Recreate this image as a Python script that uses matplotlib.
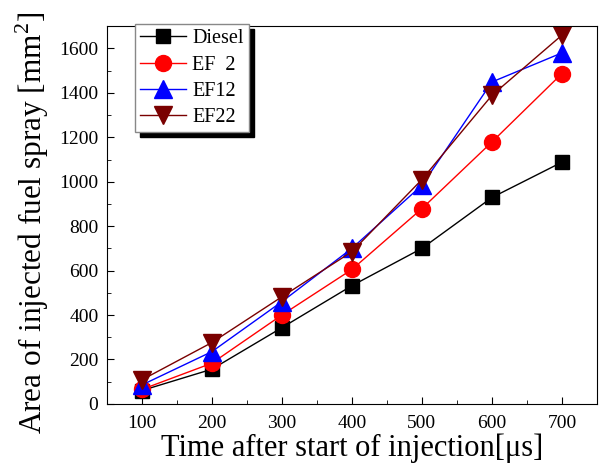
import matplotlib.pyplot as plt
from matplotlib.ticker import MultipleLocator

# values
time_us = [100, 200, 300, 400, 500, 600, 700]
diesel = [60, 156, 343, 532, 700, 929, 1088]
ef2 = [65, 183, 400, 605, 879, 1179, 1487]
ef12 = [85, 235, 460, 700, 984, 1449, 1580]
ef22 = [108, 276, 482, 685, 1010, 1389, 1660]

plt.rcParams['font.family'] = ['Liberation Serif', 'DejaVu Serif']
plt.rcParams['mathtext.fontset'] = 'custom'
plt.rcParams['mathtext.rm'] = 'Liberation Serif'

fig = plt.figure(figsize=(6, 4.68), dpi=100)
ax = fig.add_axes([0.178, 0.137, 0.817, 0.807])

ax.plot(time_us, diesel, color='black', marker='s', markersize=10, lw=1, label='Diesel')
ax.plot(time_us, ef2, color='red', marker='o', markersize=11.5, lw=1, label='EF  2')
ax.plot(time_us, ef12, color='blue', marker='^', markersize=12.5, lw=1, label='EF12')
ax.plot(time_us, ef22, color='#7a0000', marker='v', markersize=12.5, lw=1, label='EF22')

ax.set_xlim(50, 750)
ax.set_ylim(0, 1700)
ax.xaxis.set_major_locator(MultipleLocator(100))
ax.xaxis.set_minor_locator(MultipleLocator(50))
ax.yaxis.set_major_locator(MultipleLocator(200))
ax.yaxis.set_minor_locator(MultipleLocator(100))
ax.tick_params(which='both', direction='in', labelsize=14)
ax.tick_params(which='major', length=5)
ax.tick_params(which='minor', length=3)
ax.tick_params(axis='x', which='major', pad=8)
ax.tick_params(axis='y', which='major', pad=6)

ax.set_xlabel('Time after start of injection[\u03bcs]', fontsize=22, labelpad=1)
ax.set_ylabel('Area of injected fuel spray [mm$^\\mathrm{2}$]', fontsize=22.5)
ax.yaxis.set_label_coords(-0.113, 0.48)

leg = ax.legend(loc='upper left', bbox_to_anchor=(0.057, 1.005), fontsize=14.5,
                fancybox=False, edgecolor='#888888', framealpha=1,
                shadow={'ox': 3.5, 'oy': -3.5, 'color': 'black', 'alpha': 1},
                handlelength=2.3, borderpad=0.25, labelspacing=0.35,
                handletextpad=0.3, borderaxespad=0)

fig.savefig('out.png', dpi=100)
